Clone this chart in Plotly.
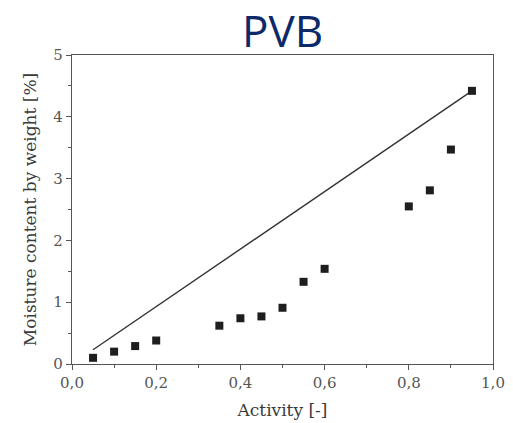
import plotly.graph_objects as go

# Measured sorption points for PVB
activity = [0.05, 0.10, 0.15, 0.20, 0.35, 0.40, 0.45, 0.50, 0.55, 0.60, 0.80, 0.85, 0.90, 0.95]
moisture = [0.10, 0.20, 0.29, 0.38, 0.62, 0.74, 0.77, 0.91, 1.33, 1.54, 2.55, 2.81, 3.47, 4.42]

# Straight reference line
line_x = [0.05, 0.95]
line_y = [0.23, 4.42]

x_ticks = [0.0, 0.2, 0.4, 0.6, 0.8, 1.0]
x_labels = ["0,0", "0,2", "0,4", "0,6", "0,8", "1,0"]
y_ticks = [0, 1, 2, 3, 4, 5]

axis_color = "#555555"
serif = "DejaVu Serif"

fig = go.Figure()
fig.add_trace(go.Scatter(x=line_x, y=line_y, mode="lines",
                         line=dict(color="#333333", width=1.4), showlegend=False))
fig.add_trace(go.Scatter(x=activity, y=moisture, mode="markers",
                         marker=dict(symbol="square", size=8, color="#1e1e1e"),
                         showlegend=False))

axis_common = dict(
    showgrid=False, zeroline=False, showline=True, linecolor=axis_color, linewidth=1.3,
    mirror=True, ticks="outside", ticklen=5, tickwidth=1.2, tickcolor=axis_color,
    tickfont=dict(family=serif, size=15, color=axis_color), automargin=False,
)

fig.update_layout(
    width=513, height=423,
    margin=dict(l=72, r=20, t=55, b=59),
    paper_bgcolor="white", plot_bgcolor="white",
    xaxis=dict(range=[0, 1.0], tickvals=x_ticks, ticktext=x_labels,
               minor=dict(ticks="outside", dtick=0.1, ticklen=3, tickcolor=axis_color),
               title=dict(text="Activity [-]", standoff=12,
                          font=dict(family=serif, size=17, color="#3a3a3a")),
               **axis_common),
    yaxis=dict(range=[0, 5], tickvals=y_ticks,
               minor=dict(ticks="outside", dtick=0.5, ticklen=3, tickcolor=axis_color),
               title=dict(text="Moisture content by weight [%]", standoff=12,
                          font=dict(family=serif, size=17, color="#3a3a3a")),
               **axis_common),
    annotations=[dict(text="PVB", xref="paper", yref="paper", x=0.5, y=1,
                      xanchor="center", yanchor="top", yshift=57, showarrow=False,
                      font=dict(family="Open Sans, sans-serif", size=44, color="#0c2a6a"))],
)

fig.write_html("out.html")
